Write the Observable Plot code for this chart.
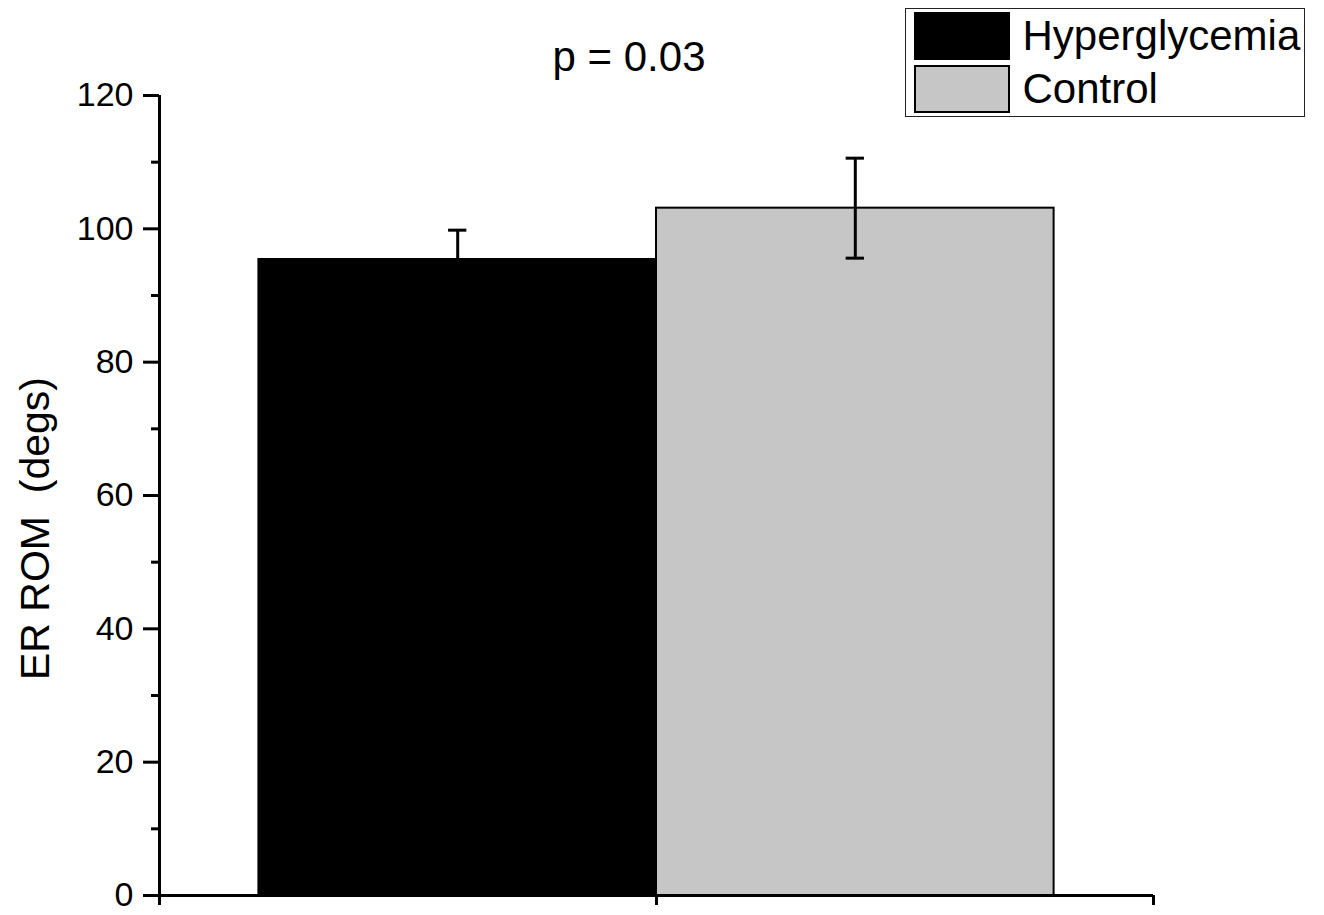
<!DOCTYPE html>
<html>
<head>
<meta charset="utf-8">
<script src="https://cdn.jsdelivr.net/npm/d3@7"></script>
<script src="https://cdn.jsdelivr.net/npm/@observablehq/plot@0.6"></script>
<style>
  html, body { margin: 0; padding: 0; background: #fff; }
  #wrap { position: relative; width: 1324px; height: 915px; font-family: Arial, "Liberation Sans", sans-serif; }
  #title { position: absolute; left: 0; width: 1258px; top: 33px; text-align: center; font-size: 42px; color: #000; }
  #legend { position: absolute; left: 905px; top: 8px; width: 400px; height: 109px; border: 1.5px solid #222; box-sizing: border-box; }
  .row { position: absolute; left: 7.5px; height: 48px; display: flex; align-items: center; }
  .sw { width: 96px; height: 48px; border: 2px solid #000; box-sizing: border-box; }
  .lab { margin-left: 13px; font-size: 42px; line-height: 48px; color: #000; }
</style>
</head>
<body>
<div id="wrap">
  <div id="chart"></div>
  <div id="title"></div>
  <div id="legend"></div>
</div>
<script>
const categories = ["Hyperglycemia", "Control"];
const means = [95.4, 103.1];
const errors = [4.4, 7.5];
const colors = ["#000000", "#c6c6c6"];
const majorTicks = [0, 20, 40, 60, 80, 100, 120];
const minorTicks = [10, 30, 50, 70, 90, 110];
const titleText = "p = 0.03";
const yLabel = "ER ROM  (degs)";

const data = categories.map((c, i) => ({name: c, i, value: means[i], err: errors[i], color: colors[i]}));
const xDomain = [-0.75, categories.length - 0.25];
const xEdgeTicks = [xDomain[0], (categories.length - 1) / 2, xDomain[1]];
const capHalf = 0.023;

const chart = Plot.plot({
  width: 1324,
  height: 915,
  marginLeft: 159,
  marginRight: 171,
  marginTop: 95,
  marginBottom: 20,
  style: {fontFamily: "Arial, 'Liberation Sans', sans-serif", background: "#fff", color: "#000"},
  x: {type: "linear", domain: xDomain, axis: null},
  y: {domain: [0, 120], axis: null},
  marks: [
    Plot.rectY(data, {x1: d => d.i - 0.5, x2: d => d.i + 0.5, y1: 0, y2: "value", fill: "color", stroke: "#000", strokeWidth: 2}),
    Plot.ruleX(data, {x: "i", y1: d => d.value - d.err, y2: d => d.value + d.err, stroke: "#000", strokeWidth: 3}),
    Plot.ruleY(data, {y: d => d.value + d.err, x1: d => d.i - capHalf, x2: d => d.i + capHalf, stroke: "#000", strokeWidth: 3}),
    Plot.ruleY(data, {y: d => d.value - d.err, x1: d => d.i - capHalf, x2: d => d.i + capHalf, stroke: "#000", strokeWidth: 3}),
    Plot.ruleX([xDomain[0]], {y1: 0, y2: 120, stroke: "#000", strokeWidth: 3}),
    Plot.ruleY([0], {stroke: "#000", strokeWidth: 3}),
    Plot.axisY({ticks: majorTicks, tickSize: 16, tickPadding: 10, strokeWidth: 3, fontSize: 34, tickFormat: d => String(d), label: null}),
    Plot.axisY({ticks: minorTicks, tickSize: 8, strokeWidth: 3, tickFormat: () => "", label: null}),
    Plot.axisX({ticks: xEdgeTicks, tickSize: 10, strokeWidth: 3, tickFormat: () => "", label: null}),
    Plot.text([yLabel], {frameAnchor: "left", textAnchor: "middle", rotate: -90, dx: -124, dy: 33, fontSize: 41, fill: "#000"})
  ]
});
document.getElementById("chart").appendChild(chart);
document.getElementById("title").textContent = titleText;

const legend = document.getElementById("legend");
data.forEach((d, k) => {
  const row = document.createElement("div");
  row.className = "row";
  row.style.top = (2.5 + k * 53) + "px";
  const sw = document.createElement("div");
  sw.className = "sw";
  sw.style.background = d.color;
  const lab = document.createElement("div");
  lab.className = "lab";
  lab.textContent = d.name;
  row.appendChild(sw);
  row.appendChild(lab);
  legend.appendChild(row);
});
</script>
</body>
</html>
